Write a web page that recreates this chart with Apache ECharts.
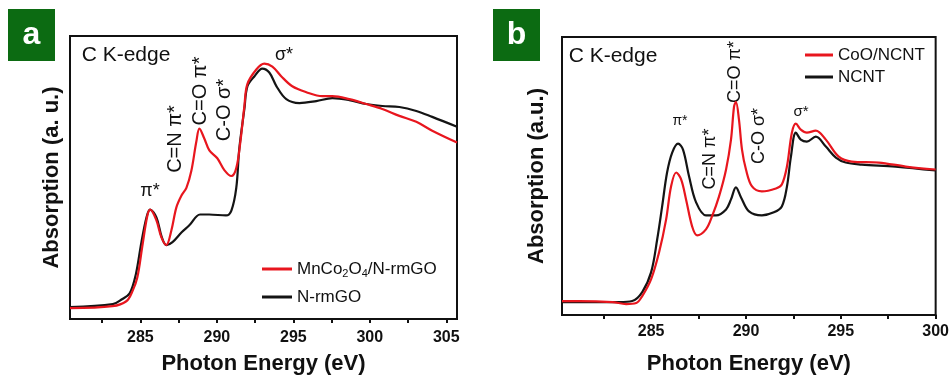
<!DOCTYPE html>
<html>
<head>
<meta charset="utf-8">
<script src="https://cdn.jsdelivr.net/npm/echarts@6/dist/echarts.min.js"></script>
<style>
html, body { margin: 0; padding: 0; background: #fff; }
#chart { width: 952px; height: 380px; }
</style>
</head>
<body>
<div id="chart"></div>
<script>
// panel a : MnCo2O4/N-rmGO vs N-rmGO
const eA_black = [280.4, 283.2, 283.8, 284.3, 284.7, 285.07, 285.4, 285.63, 286.05, 286.4, 286.7, 287.1, 287.7, 288.2, 288.9, 289.5, 290.6, 290.95, 291.27, 291.47, 291.8, 292.0, 292.45, 292.97, 293.43, 293.9, 294.54, 295.4, 296.5, 297.55, 298.66, 299.77, 300.82, 301.93, 303.04, 304.08, 305.7];
const absA_black = [0.12, 0.15, 0.20, 0.26, 0.45, 0.78, 1.03, 1.11, 1.03, 0.83, 0.75, 0.78, 0.88, 0.95, 1.06, 1.06, 1.05, 1.10, 1.33, 1.73, 2.13, 2.36, 2.46, 2.54, 2.50, 2.36, 2.23, 2.19, 2.21, 2.24, 2.22, 2.18, 2.16, 2.15, 2.11, 2.05, 1.95];
const eA_red = [280.4, 283.17, 284.08, 284.48, 284.8, 285.13, 285.46, 285.65, 286.05, 286.37, 286.7, 287.03, 287.35, 287.68, 288.01, 288.33, 288.66, 288.86, 289.18, 289.51, 290.03, 290.49, 290.95, 291.27, 291.54, 291.8, 291.99, 292.58, 293.1, 293.63, 294.22, 294.93, 295.85, 296.9, 297.55, 298.66, 299.77, 300.82, 301.93, 303.04, 304.08, 305.7];
const absA_red = [0.11, 0.13, 0.18, 0.28, 0.42, 0.74, 1.05, 1.11, 1.00, 0.83, 0.75, 0.90, 1.13, 1.25, 1.33, 1.50, 1.80, 1.93, 1.83, 1.71, 1.63, 1.51, 1.45, 1.53, 1.80, 2.16, 2.38, 2.53, 2.59, 2.56, 2.46, 2.36, 2.30, 2.26, 2.26, 2.23, 2.18, 2.13, 2.06, 2.00, 1.91, 1.79];

// panel b : CoO/NCNT vs NCNT
const eB_black = [280.3, 283.32, 284.0, 284.53, 285.0, 285.32, 285.58, 285.84, 286.11, 286.42, 286.68, 287.0, 287.37, 287.89, 288.42, 288.95, 289.21, 289.47, 289.74, 290.16, 290.84, 291.47, 291.89, 292.16, 292.37, 292.63, 292.89, 293.21, 293.68, 294.21, 294.74, 295.26, 296.1, 297.89, 300];
const absB_black = [0.13, 0.13, 0.14, 0.23, 0.43, 0.76, 1.09, 1.43, 1.63, 1.72, 1.66, 1.39, 1.13, 1.00, 1.00, 1.06, 1.16, 1.28, 1.18, 1.04, 1.00, 1.03, 1.09, 1.29, 1.59, 1.83, 1.76, 1.74, 1.79, 1.69, 1.58, 1.53, 1.51, 1.49, 1.45];
const eB_red = [280.3, 281.21, 282.95, 283.68, 284.21, 284.53, 285.0, 285.42, 285.79, 286.05, 286.32, 286.58, 286.84, 287.16, 287.42, 287.89, 288.21, 288.58, 288.95, 289.21, 289.37, 289.47, 289.63, 289.79, 290.0, 290.32, 290.84, 291.58, 291.89, 292.16, 292.42, 292.63, 292.89, 293.21, 293.68, 294.21, 294.89, 295.58, 297.0, 298.42, 300];
const absB_red = [0.14, 0.14, 0.13, 0.11, 0.12, 0.19, 0.36, 0.63, 0.96, 1.29, 1.43, 1.36, 1.16, 0.89, 0.80, 0.86, 0.99, 1.19, 1.46, 1.76, 2.09, 2.14, 1.96, 1.66, 1.46, 1.29, 1.24, 1.27, 1.31, 1.49, 1.83, 1.92, 1.86, 1.83, 1.85, 1.76, 1.59, 1.54, 1.53, 1.49, 1.46];

const ticksA = [282.5, 285, 287.5, 290, 292.5, 295, 297.5, 300, 302.5, 305];
const tickLabelsA = [285, 290, 295, 300, 305];
const ticksB = [282.5, 285, 287.5, 290, 292.5, 295, 297.5, 300];
const tickLabelsB = [285, 290, 295, 300];

const FONT = '"Liberation Sans", Arial, sans-serif';
const RED = '#e8161e';
const BLACK = '#141414';

function pairs(xs, ys) {
    return xs.map((x, i) => [x, ys[i]]);
}

function xAxisOf(gridIndex, min, max, ticks, labels, labelMargin, nameGap) {
    return {
        type: 'value',
        gridIndex: gridIndex,
        min: min,
        max: max,
        name: 'Photon Energy (eV)',
        nameLocation: 'middle',
        nameGap: nameGap,
        nameTextStyle: { fontFamily: FONT, fontSize: 22, fontWeight: 'bold', color: '#111' },
        axisLine: { show: true, lineStyle: { color: '#111', width: 2 } },
        axisTick: { show: true, length: 4, customValues: ticks, lineStyle: { color: '#111', width: 2 } },
        axisLabel: { customValues: labels, margin: labelMargin, fontFamily: FONT, fontSize: 16, fontWeight: 'bold', color: '#111' },
        splitLine: { show: false }
    };
}

function yAxisOf(gridIndex, max, name, nameGap) {
    return {
        type: 'value',
        gridIndex: gridIndex,
        min: 0,
        max: max,
        name: name,
        nameLocation: 'middle',
        nameGap: nameGap,
        nameTextStyle: { fontFamily: FONT, fontSize: 22, fontWeight: 'bold', color: '#111' },
        axisLine: { show: false },
        axisTick: { show: false },
        axisLabel: { show: false },
        splitLine: { show: false }
    };
}

function lineSeries(name, color, idx, data) {
    return {
        name: name,
        type: 'line',
        xAxisIndex: idx,
        yAxisIndex: idx,
        data: data,
        smooth: 0.35,
        showSymbol: false,
        symbol: 'none',
        lineStyle: { color: color, width: 2.2 },
        itemStyle: { color: color },
        emphasis: { disabled: true }
    };
}

function annot(x, y, text, size, rotate) {
    return {
        type: 'text',
        x: x,
        y: y,
        rotation: rotate ? Math.PI / 2 : 0,
        style: {
            text: text,
            fontFamily: FONT,
            fontSize: size,
            fill: '#111',
            align: 'center',
            verticalAlign: 'middle'
        }
    };
}

function panelTag(x, y, letter) {
    return [
        { type: 'rect', shape: { x: x, y: y, width: 47, height: 52 }, style: { fill: '#0c6b12' } },
        {
            type: 'text', x: x + 23.5, y: y + 26,
            style: { text: letter, fontFamily: FONT, fontSize: 32, fontWeight: 'bold', fill: '#fff', align: 'center', verticalAlign: 'middle' }
        }
    ];
}

const chart = echarts.init(document.getElementById('chart'));

const option = {
    animation: false,
    backgroundColor: '#fff',
    grid: [
        { left: 70, top: 36, width: 387, height: 287, show: true, borderColor: '#111', borderWidth: 2 },
        { left: 562, top: 37, width: 375, height: 279, show: true, borderColor: '#111', borderWidth: 2 }
    ],
    xAxis: [
        xAxisOf(0, 280.4, 305.7, ticksA, tickLabelsA, 11, 34),
        xAxisOf(1, 280.3, 300, ticksB, tickLabelsB, 9, 38)
    ],
    yAxis: [
        yAxisOf(0, 2.87, 'Absorption (a. u.)', 7),
        yAxisOf(1, 2.79, 'Absorption (a.u.)', 14)
    ],
    legend: [
        {
            data: ['MnCo2O4/N-rmGO', 'N-rmGO'],
            orient: 'vertical',
            left: 262,
            top: 259,
            padding: 0,
            itemGap: 8,
            itemWidth: 30,
            itemHeight: 3,
            icon: 'rect',
            selectedMode: false,
            formatter: function (name) {
                return name === 'MnCo2O4/N-rmGO' ? 'MnCo{s|2}O{s|4}/N-rmGO' : name;
            },
            textStyle: {
                fontFamily: FONT, fontSize: 17, color: '#111', lineHeight: 20,
                rich: { s: { fontFamily: FONT, fontSize: 11, color: '#111', lineHeight: 20, verticalAlign: 'bottom', padding: [8, 0, 0, 0] } }
            }
        },
        {
            data: ['CoO/NCNT', 'NCNT'],
            orient: 'vertical',
            left: 805,
            top: 45,
            padding: 0,
            itemGap: 2,
            itemWidth: 28,
            itemHeight: 3,
            icon: 'rect',
            selectedMode: false,
            textStyle: { fontFamily: FONT, fontSize: 17, color: '#111', lineHeight: 20 }
        }
    ],
    series: [
        lineSeries('N-rmGO', BLACK, 0, pairs(eA_black, absA_black)),
        lineSeries('MnCo2O4/N-rmGO', RED, 0, pairs(eA_red, absA_red)),
        lineSeries('NCNT', BLACK, 1, pairs(eB_black, absB_black)),
        lineSeries('CoO/NCNT', RED, 1, pairs(eB_red, absB_red))
    ],
    graphic: [].concat(
        panelTag(8, 9, 'a'),
        panelTag(493, 9, 'b'),
        [
            // panel a labels
            annot(126, 55, 'C K-edge', 21, false),
            annot(150, 191, 'π*', 18, false),
            annot(175, 139, 'C=N π*', 20, true),
            annot(200, 91, 'C=O π*', 20, true),
            annot(224, 110, 'C-O σ*', 20, true),
            annot(284, 55, 'σ*', 18, false),
            // panel b labels
            annot(613, 56, 'C K-edge', 21, false),
            annot(680, 121, 'π*', 14, false),
            annot(710, 159, 'C=N π*', 18, true),
            annot(735, 72, 'C=O π*', 18, true),
            annot(759, 136, 'C-O σ*', 18, true),
            annot(801, 112, 'σ*', 15, false)
        ]
    )
};

chart.setOption(option);
</script>
</body>
</html>
